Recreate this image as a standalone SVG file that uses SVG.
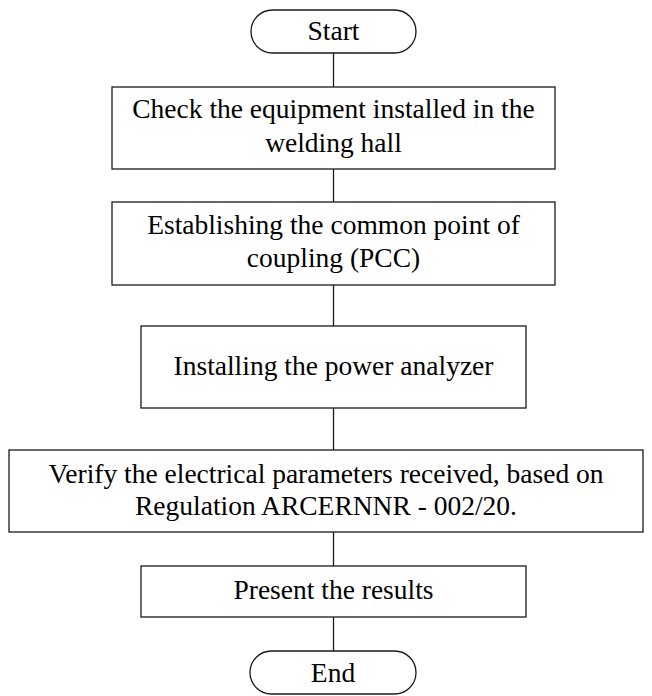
<svg xmlns="http://www.w3.org/2000/svg" width="652" height="696" viewBox="0 0 652 696">
<style>
.box{fill:#fff;stroke:#1a1a1a;stroke-width:1.3}
.t{font-family:"Liberation Serif","Times New Roman",serif;font-size:27.5px;fill:#000;text-anchor:middle}
.c{stroke:#1a1a1a;stroke-width:1.3;fill:none}
</style>
<rect width="652" height="696" fill="#fff"/>
<g id="connectors">
<line class="c" x1="333.5" y1="53" x2="333.5" y2="87"/>
<line class="c" x1="333.5" y1="169" x2="333.5" y2="202"/>
<line class="c" x1="333.5" y1="285" x2="333.5" y2="326"/>
<line class="c" x1="333.5" y1="408" x2="333.5" y2="450"/>
<line class="c" x1="333.5" y1="532" x2="333.5" y2="566"/>
<line class="c" x1="333.5" y1="617" x2="333.5" y2="651"/>
</g>
<g id="start">
<rect class="box" x="251" y="10" width="165" height="43" rx="21.5" ry="21.5"/>
<text class="t" x="333.5" y="40">Start</text>
</g>
<g id="check">
<rect class="box" x="112" y="87" width="443" height="82"/>
<text class="t" x="333.5" y="118">Check the equipment installed in the</text>
<text class="t" x="333.5" y="152">welding hall</text>
</g>
<g id="pcc">
<rect class="box" x="112" y="202" width="443" height="83"/>
<text class="t" x="333.5" y="234">Establishing the common point of</text>
<text class="t" x="333.5" y="267">coupling (PCC)</text>
</g>
<g id="install">
<rect class="box" x="141" y="326" width="385" height="82"/>
<text class="t" x="333.5" y="375">Installing the power analyzer</text>
</g>
<g id="verify">
<rect class="box" x="9" y="450" width="634" height="82"/>
<text class="t" x="326" y="483">Verify the electrical parameters received, based on</text>
<text class="t" x="326" y="515">Regulation ARCERNNR - 002/20.</text>
</g>
<g id="present">
<rect class="box" x="141" y="566" width="385" height="51"/>
<text class="t" x="333.5" y="599">Present the results</text>
</g>
<g id="end">
<rect class="box" x="250" y="651" width="166" height="43" rx="21.5" ry="21.5"/>
<text class="t" x="333" y="682">End</text>
</g>
</svg>
